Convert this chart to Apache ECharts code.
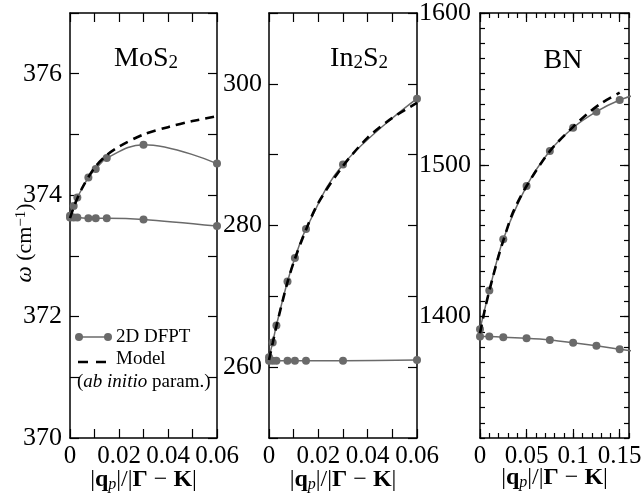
<!DOCTYPE html>
<html><head><meta charset="utf-8">
<script src="https://cdn.jsdelivr.net/npm/echarts@6/dist/echarts.min.js"></script>
<style>html,body{margin:0;padding:0;background:#fff}#c{width:642px;height:494px}</style>
</head><body><div id="c"></div>
<script>
// ---------- data ----------
// MoS2
const mos2Q = [0, 0.0015, 0.003, 0.0075, 0.0105, 0.015, 0.03, 0.06];
const mos2Upper = [373.66, 373.82, 373.96, 374.29, 374.43, 374.61, 374.83, 374.52];
const mos2Lower = [373.63, 373.63, 373.63, 373.62, 373.62, 373.62, 373.60, 373.49];
const mos2ModelQ = [0, 0.002, 0.005, 0.01, 0.015, 0.02, 0.03, 0.04, 0.05, 0.06];
const mos2Model = [373.62, 373.85, 374.12, 374.45, 374.66, 374.80, 375.00, 375.12, 375.22, 375.30];
// In2S2
const in2s2Q = [0, 0.0015, 0.003, 0.0075, 0.0105, 0.015, 0.03, 0.06];
const in2s2Upper = [261.4, 263.5, 265.9, 272.1, 275.4, 279.5, 288.6, 297.9];
const in2s2Lower = [260.9, 260.9, 260.9, 260.9, 260.9, 260.9, 260.9, 261.0];
const in2s2ModelQ = [0, 0.0015, 0.003, 0.0075, 0.0105, 0.015, 0.02, 0.03, 0.04, 0.05, 0.06];
const in2s2Model = [261.0, 263.4, 265.8, 272.0, 275.3, 279.4, 283.2, 288.4, 292.4, 295.2, 297.3];
// BN
const bnQ = [0, 0.01, 0.025, 0.05, 0.075, 0.1, 0.125, 0.15, 0.175];
const bnUpper = [1391.6, 1417.1, 1450.9, 1486.0, 1509.1, 1524.4, 1535.0, 1542.7, 1547.5];
const bnLower = [1386.8, 1386.8, 1386.4, 1385.7, 1384.6, 1382.8, 1380.8, 1378.5, 1376.3];
const bnModelQ = [0, 0.005, 0.01, 0.02, 0.025, 0.035, 0.05, 0.075, 0.1, 0.115, 0.13, 0.15];
const bnModel = [1389, 1404, 1417, 1440, 1450, 1468, 1486, 1509, 1525, 1533.5, 1540.5, 1547.5];
// tick labels
const mos2YLabels = [370, 372, 374, 376];
const in2s2YLabels = [260, 280, 300];
const bnYLabels = [1400, 1500, 1600];
const smallXLabels = [0, 0.02, 0.04, 0.06];
const bnXLabels = [0, 0.05, 0.1, 0.15];
const panelTitles = ['MoS{s|2}', 'In{s|2}S{s|2}', 'BN'];
const legendNames = ['2D DFPT', 'Model', '({it|ab initio} param.)'];
const yTitle = '{i|ω} (cm{sup|−1})';
const xTitle = '|{b|q}{sub|p}|/|{b|Γ} − {b|K}|';

// ---------- styling ----------
const FONT = 'Liberation Serif';
const GRAY = '#6a6a6a';
function pairs(xs, ys) { return xs.map((x, i) => [x, ys[i]]); }
function fmt(v) { return String(+(+v).toFixed(4)); }

const xNameStyle = {
  fontFamily: FONT, fontSize: 24, color: '#000',
  rich: {
    b: { fontFamily: FONT, fontSize: 24, fontWeight: 'bold', lineHeight: 26 },
    sub: { fontFamily: FONT, fontSize: 16, fontStyle: 'italic', verticalAlign: 'bottom', lineHeight: 12 }
  }
};

function axis(gi, pos, min, max, o) {
  return {
    type: 'value', gridIndex: gi, position: pos, min: min, max: max,
    interval: o.interval,
    name: o.name || '', nameLocation: 'middle', nameGap: o.nameGap || 0,
    nameMoveOverlap: false,
    nameTextStyle: o.nameTextStyle,
    axisLine: { show: o.line !== false, onZero: false, lineStyle: { color: '#000', width: 1.5 } },
    axisTick: { show: true, inside: true, length: o.tickLen,
      customValues: o.tickValues, lineStyle: { color: '#000', width: 1.2 } },
    axisLabel: { show: !!o.labels, customValues: o.labels, formatter: fmt, margin: o.margin || 7,
      fontFamily: FONT, fontSize: o.fs || 26, color: '#000' },
    splitLine: { show: false }
  };
}

const xAxes = [
  axis(0, 'bottom', 0, 0.06, { interval: 0.01, tickLen: 9, labels: smallXLabels, margin: 6, fs: 25, name: xTitle, nameGap: 29, nameTextStyle: xNameStyle }),
  axis(0, 'top', 0, 0.06, { interval: 0.01, tickLen: 9 }),
  axis(1, 'bottom', 0, 0.06, { interval: 0.01, tickLen: 9, labels: smallXLabels, margin: 6, fs: 25, name: xTitle, nameGap: 29, nameTextStyle: xNameStyle }),
  axis(1, 'top', 0, 0.06, { interval: 0.01, tickLen: 9 }),
  axis(2, 'bottom', 0, 0.16, { interval: 0.01, tickLen: 5, labels: bnXLabels, margin: 6, fs: 25, name: xTitle, nameGap: 27, nameTextStyle: xNameStyle }),
  axis(2, 'bottom', 0, 0.16, { tickValues: bnXLabels, tickLen: 9, line: false }),
  axis(2, 'top', 0, 0.16, { interval: 0.01, tickLen: 5 }),
  axis(2, 'top', 0, 0.16, { tickValues: bnXLabels, tickLen: 9, line: false })
];
const yAxes = [
  axis(0, 'left', 370, 377, { interval: 1, tickLen: 9, labels: mos2YLabels, margin: 8 }),
  axis(0, 'right', 370, 377, { interval: 1, tickLen: 9 }),
  axis(1, 'left', 250, 310, { interval: 10, tickLen: 9, labels: in2s2YLabels, margin: 7 }),
  axis(1, 'right', 250, 310, { interval: 10, tickLen: 9 }),
  axis(2, 'left', 1320, 1600, { interval: 10, tickLen: 5, labels: bnYLabels, margin: 9 }),
  axis(2, 'left', 1320, 1600, { tickValues: bnYLabels, tickLen: 9, line: false }),
  axis(2, 'right', 1320, 1600, { interval: 10, tickLen: 5 }),
  axis(2, 'right', 1320, 1600, { tickValues: bnYLabels, tickLen: 9, line: false })
];

function dfpt(xi, yi, data, sm) {
  return { type: 'line', xAxisIndex: xi, yAxisIndex: yi, data: data, smooth: sm,
    symbol: 'circle', symbolSize: 8, showSymbol: true, clip: true, z: 2,
    lineStyle: { color: GRAY, width: 1.5 }, itemStyle: { color: GRAY }, animation: false };
}
function model(xi, yi, data) {
  return { type: 'line', xAxisIndex: xi, yAxisIndex: yi, data: data, smooth: 0.3, showSymbol: false,
    symbol: 'none', clip: true, z: 3,
    lineStyle: { color: '#000', width: 2.6, type: [9, 6] }, animation: false };
}

const titleStyle = { fontFamily: FONT, fontSize: 28, fontWeight: 'normal', color: '#000',
  rich: { s: { fontFamily: FONT, fontSize: 19, verticalAlign: 'bottom', lineHeight: 13 } } };

const option = {
  backgroundColor: '#fff',
  animation: false,
  grid: [
    { left: 70, top: 13, width: 147, height: 425, outerBoundsMode: 'none', containLabel: false },
    { left: 269, top: 13, width: 148, height: 425, outerBoundsMode: 'none', containLabel: false },
    { left: 480, top: 13, width: 149, height: 425, outerBoundsMode: 'none', containLabel: false }
  ],
  title: [
    { text: panelTitles[0], left: 141, top: 40, textAlign: 'center', textStyle: titleStyle },
    { text: panelTitles[1], left: 354, top: 40, textAlign: 'center', textStyle: titleStyle },
    { text: panelTitles[2], left: 558, top: 42, textAlign: 'center', textStyle: titleStyle }
  ],
  xAxis: xAxes,
  yAxis: yAxes,
  series: [
    dfpt(0, 0, pairs(mos2Q, mos2Upper), 0.4),
    dfpt(0, 0, pairs(mos2Q, mos2Lower), 0.3),
    model(0, 0, pairs(mos2ModelQ, mos2Model)),
    dfpt(2, 2, pairs(in2s2Q, in2s2Upper), 0.4),
    dfpt(2, 2, pairs(in2s2Q, in2s2Lower), 0.3),
    model(2, 2, pairs(in2s2ModelQ, in2s2Model)),
    dfpt(4, 4, pairs(bnQ, bnUpper), 0.3),
    dfpt(4, 4, pairs(bnQ, bnLower), 0.2),
    model(4, 4, pairs(bnModelQ, bnModel))
  ],
  graphic: [
    { type: 'text', x: 25, y: 243, rotation: Math.PI / 2,
      style: { text: yTitle, font: '22px "Liberation Serif"', fill: '#000', align: 'center', verticalAlign: 'middle',
        rich: { i: { font: 'italic 23px "Liberation Serif"', fill: '#000' },
                sup: { font: '15px "Liberation Serif"', fill: '#000', verticalAlign: 'top', lineHeight: 14 } } } },
    { type: 'line', shape: { x1: 79, y1: 337, x2: 108, y2: 337 }, style: { stroke: GRAY, lineWidth: 1.5 } },
    { type: 'circle', shape: { cx: 79, cy: 337, r: 4 }, style: { fill: GRAY } },
    { type: 'circle', shape: { cx: 108, cy: 337, r: 4 }, style: { fill: GRAY } },
    { type: 'text', x: 116, y: 337, style: { text: legendNames[0], font: '19px "Liberation Serif"', fill: '#000', verticalAlign: 'middle' } },
    { type: 'line', shape: { x1: 78, y1: 362, x2: 106, y2: 362 }, style: { stroke: '#000', lineWidth: 2.6, lineDash: [10, 8] } },
    { type: 'text', x: 116, y: 359, style: { text: legendNames[1], font: '19px "Liberation Serif"', fill: '#000', verticalAlign: 'middle' } },
    { type: 'text', x: 77, y: 382, style: { text: legendNames[2], font: '19px "Liberation Serif"', fill: '#000', verticalAlign: 'middle',
      rich: { it: { font: 'italic 19px "Liberation Serif"', fill: '#000' } } } }
  ]
};
const chart = echarts.init(document.getElementById('c'), null, { renderer: 'canvas' });
chart.setOption(option);
</script></body></html>
